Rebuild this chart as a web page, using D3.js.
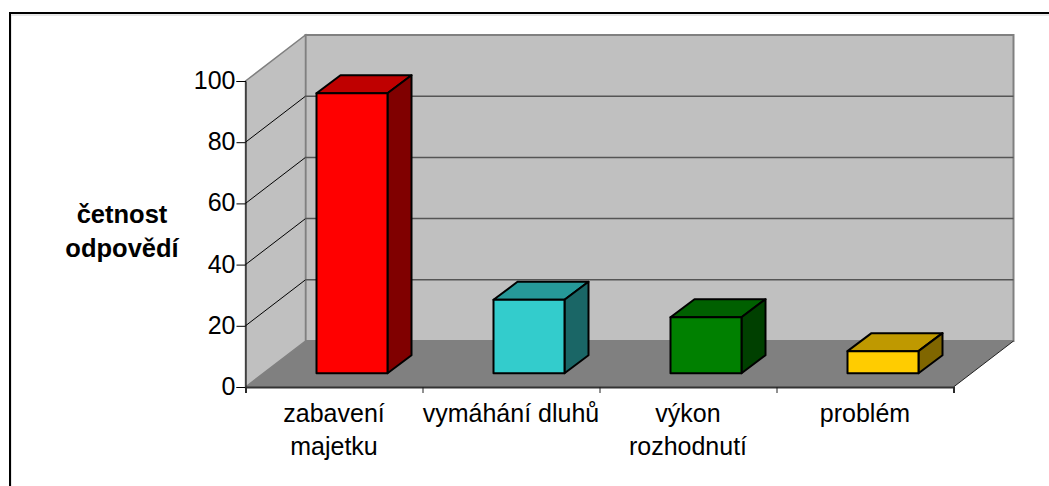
<!DOCTYPE html>
<html><head><meta charset="utf-8">
<style>html,body{margin:0;padding:0;background:#fff;overflow:hidden}svg{display:block}text{font-family:"Liberation Sans",Arial,sans-serif;fill:#000}</style>
<script src="https://cdnjs.cloudflare.com/ajax/libs/d3/7.9.0/d3.min.js"></script>
</head><body><svg id="c" width="1049" height="486"></svg>
<script>
const categories=[["zabavení","majetku"],["vymáhání dluhů"],["výkon","rozhodnutí"],["problém"]];
const values=[91.5,24,18.3,7.2];
const colors=["#ff0000","#33cccc","#008000","#ffcc00"];
const tickValues=[0,20,40,60,80,100];
const axisTitle=["četnost","odpovědí"];

const svg=d3.select("#c");
const y=d3.scaleLinear().domain([0,100]).range([387,81]);
const x=d3.scaleLinear().domain([0,4]).range([245.5,953.5]);
const D={x:60,y:-46};
const p=a=>a.map(q=>q.join(",")).join(" ");
const shade=(c,k)=>{const r=d3.rgb(c);return d3.rgb(r.r*k,r.g*k,r.b*k).formatHex();};

// frame: only top and left edges are visible
svg.append("path").attr("d","M1049,15 H11 V486").attr("fill","none").attr("stroke","#d0d0d0").attr("stroke-width",1);
svg.append("path").attr("d","M1049,13 H10 V486").attr("fill","none").attr("stroke","#000").attr("stroke-width",2);

const x0=x(0),x1=x(4),yb=y(0),yt=y(100);
// walls and floor
svg.append("polygon").attr("points",p([[x0+D.x,yt+D.y],[x1+D.x,yt+D.y],[x1+D.x,yb+D.y],[x0+D.x,yb+D.y]])).attr("fill","#c0c0c0").attr("stroke","#808080").attr("stroke-width",2);
svg.append("polygon").attr("points",p([[x0,yt],[x0+D.x,yt+D.y],[x0+D.x,yb+D.y],[x0,yb]])).attr("fill","#c0c0c0").attr("stroke","#808080").attr("stroke-width",1.5);
svg.append("polygon").attr("points",p([[x0,yb],[x0+D.x,yb+D.y],[x1+D.x,yb+D.y],[x1,yb]])).attr("fill","#808080");
svg.append("line").attr("x1",x1).attr("y1",yb).attr("x2",x1+D.x).attr("y2",yb+D.y).attr("stroke","#222").attr("stroke-width",1);
// gridlines
tickValues.filter(t=>t>0&&t<100).forEach(t=>{
  svg.append("line").attr("x1",x0).attr("y1",y(t)).attr("x2",x0+D.x).attr("y2",y(t)+D.y).attr("stroke","#000").attr("stroke-width",1);
  svg.append("line").attr("x1",x0+D.x).attr("y1",y(t)+D.y).attr("x2",x1+D.x).attr("y2",y(t)+D.y).attr("stroke","#555").attr("stroke-width",1.5);
});
// axes
const yAxis=d3.axisLeft(y).tickValues(tickValues).tickSize(9).tickPadding(1).tickFormat(d3.format("d"));
const gy=svg.append("g").attr("transform",`translate(${x0},0)`).call(yAxis);
gy.selectAll("text").attr("font-size",25).attr("dy","0.3em").style("font-family",'"Liberation Sans",Arial,sans-serif');
gy.selectAll("line,path").attr("stroke","#000");
const gx=svg.append("g").attr("transform",`translate(0,${yb})`).call(d3.axisBottom(x).tickValues([0,1,2,3,4]).tickSize(6).tickFormat(""));
gx.selectAll("line").attr("stroke","#222");
gx.select("path").attr("stroke","#333").attr("stroke-width",2);

// bars
const depth=0.3, bw=71, bd={x:24,y:-18};
values.forEach((v,i)=>{
  const cx=(x(i)+x(i+1))/2+depth*D.x;
  const l=cx-bw/2,r=cx+bw/2,b=y(0)+depth*D.y,t=y(v)+depth*D.y;
  const g=svg.append("g").attr("stroke","#000").attr("stroke-width",2).attr("stroke-linejoin","round");
  g.append("polygon").attr("points",p([[l,t],[l+bd.x,t+bd.y],[r+bd.x,t+bd.y],[r,t]])).attr("fill",shade(colors[i],0.75));
  g.append("polygon").attr("points",p([[r,t],[r+bd.x,t+bd.y],[r+bd.x,b+bd.y],[r,b]])).attr("fill",shade(colors[i],0.5));
  g.append("rect").attr("x",l).attr("y",t).attr("width",bw).attr("height",b-t).attr("fill",colors[i]);
});
// category labels
categories.forEach((c,i)=>{
  const cx=(x(i)+x(i+1))/2;
  const t=svg.append("text").attr("text-anchor","middle").attr("font-size",25);
  c.forEach((s,j)=>t.append("tspan").attr("x",cx).attr("y",422+j*33).text(s));
});
const tt=svg.append("text").attr("text-anchor","middle").attr("font-size",25.5).attr("font-weight","bold");
axisTitle.forEach((s,j)=>tt.append("tspan").attr("x",122).attr("y",223+j*34).text(s));
</script></body></html>
